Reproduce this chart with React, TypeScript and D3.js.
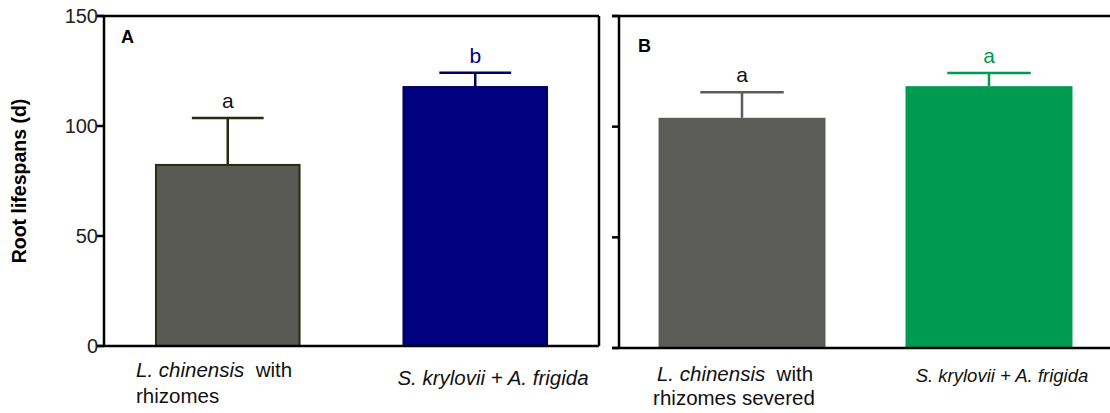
import React from "react";
import * as d3 from "d3";

const categoriesA = ["L. chinensis with rhizomes", "S. krylovii + A. frigida"];
const meansA = [82.3, 117.7];
const errA = [21.3, 6.5];
const lettersA = ["a", "b"];

const categoriesB = ["L. chinensis with rhizomes severed", "S. krylovii + A. frigida"];
const meansB = [104, 118.3];
const errB = [11.5, 6];
const lettersB = ["a", "a"];

const yTicks = [0, 50, 100, 150];

const W = 1110, H = 413;
const FONT = "Liberation Sans, Arial, sans-serif";

function Panel({ cats, means, errs, letters, x0, x1, y0, y1, padIn, padOut, fills, strokes, letterColors, capFrac, letter, letterPos, tickLabels, rightBorder, labels }: any) {
  const y = d3.scaleLinear().domain([0, 150]).range([y0, y1]);
  const x = d3.scaleBand().domain(cats).range([x0, x1]).paddingInner(padIn).paddingOuter(padOut);
  const bw = x.bandwidth();
  return (
    <g>
      {cats.map((c: string, i: number) => {
        const bx = x(c)!;
        const cx = bx + bw / 2;
        const top = y(means[i]);
        const et = y(means[i] + errs[i]);
        const cw = bw * capFrac;
        return (
          <g key={c}>
            <line x1={cx} x2={cx} y1={top} y2={et} stroke={strokes[i]} strokeWidth={2.5} />
            <line x1={cx - cw / 2} x2={cx + cw / 2} y1={et} y2={et} stroke={strokes[i]} strokeWidth={2.5} />
            <rect x={bx} y={top} width={bw} height={y0 - top} fill={fills[i]} stroke={strokes[i]} strokeWidth={strokes[i] === fills[i] ? 0 : 2} />
            <text x={cx} y={et - 10} textAnchor="middle" fontSize={21} fontFamily={FONT} fill={letterColors[i]}>{letters[i]}</text>
          </g>
        );
      })}
      <line x1={x0} x2={x0} y1={y1} y2={y0} stroke="#000" strokeWidth={2.5} />
      <line x1={x0 - 7} x2={x1} y1={y0} y2={y0} stroke="#000" strokeWidth={2.5} />
      <line x1={x0 - 7} x2={x1} y1={y1} y2={y1} stroke="#000" strokeWidth={2.5} />
      {rightBorder && <line x1={x1} x2={x1} y1={y1} y2={y0} stroke="#000" strokeWidth={2.5} />}
      {yTicks.map((t) => (
        <g key={t}>
          <line x1={x0 - 7} x2={x0} y1={y(t)} y2={y(t)} stroke="#000" strokeWidth={2.5} />
          {tickLabels && (
            <text x={x0 - 6} y={y(t) + 7} textAnchor="end" fontSize={20} fontFamily={FONT} fill="#222">{t}</text>
          )}
        </g>
      ))}
      <text x={letterPos[0]} y={letterPos[1]} fontSize={18} fontWeight="bold" fontFamily={FONT}>{letter}</text>
      {labels}
    </g>
  );
}

export default function App() {
  return (
    <svg width={W} height={H} style={{ display: "block", position: "absolute", left: 0, top: 0, background: "#fff" }}>
      <text transform="translate(26,181) rotate(-90)" textAnchor="middle" fontSize={19.5} fontWeight="bold" fontFamily={FONT}>Root lifespans (d)</text>
      <Panel cats={categoriesA} means={meansA} errs={errA} letters={lettersA}
        x0={104} x1={599} y0={346} y1={16} padIn={0.42} padOut={0.21}
        fills={["#5a5a54", "#000080"]} strokes={["#2a2a10", "#000060"]} letterColors={["#111", "#000080"]}
        capFrac={0.5} letter="A" letterPos={[121, 43]} tickLabels rightBorder
        labels={
          <g fontFamily={FONT} fontSize={20.5} fill="#111">
            <text x={136} y={377} xmlSpace="preserve"><tspan fontStyle="italic">L. chinensis</tspan>  with</text>
            <text x={136} y={403}>rhizomes</text>
            <text x={493} y={385} textAnchor="middle" fontStyle="italic">S. krylovii + A. frigida</text>
          </g>
        } />
      <Panel cats={categoriesB} means={meansB} errs={errB} letters={lettersB}
        x0={619} x1={1112} y0={348} y1={16} padIn={0.324} padOut={0.16}
        fills={["#5c5c58", "#009a50"]} strokes={["#5c5c58", "#009a50"]} letterColors={["#111", "#009a50"]}
        capFrac={0.5} letter="B" letterPos={[638, 52]} tickLabels={false} rightBorder={false}
        labels={
          <g fontFamily={FONT} fontSize={20.5} fill="#111">
            <text x={735} y={381} textAnchor="middle" xmlSpace="preserve"><tspan fontStyle="italic">L. chinensis</tspan>  with</text>
            <text x={734} y={405} textAnchor="middle">rhizomes severed</text>
            <text x={1002} y={382} textAnchor="middle" fontStyle="italic" fontSize={18.5}>S. krylovii + A. frigida</text>
          </g>
        } />
    </svg>
  );
}
